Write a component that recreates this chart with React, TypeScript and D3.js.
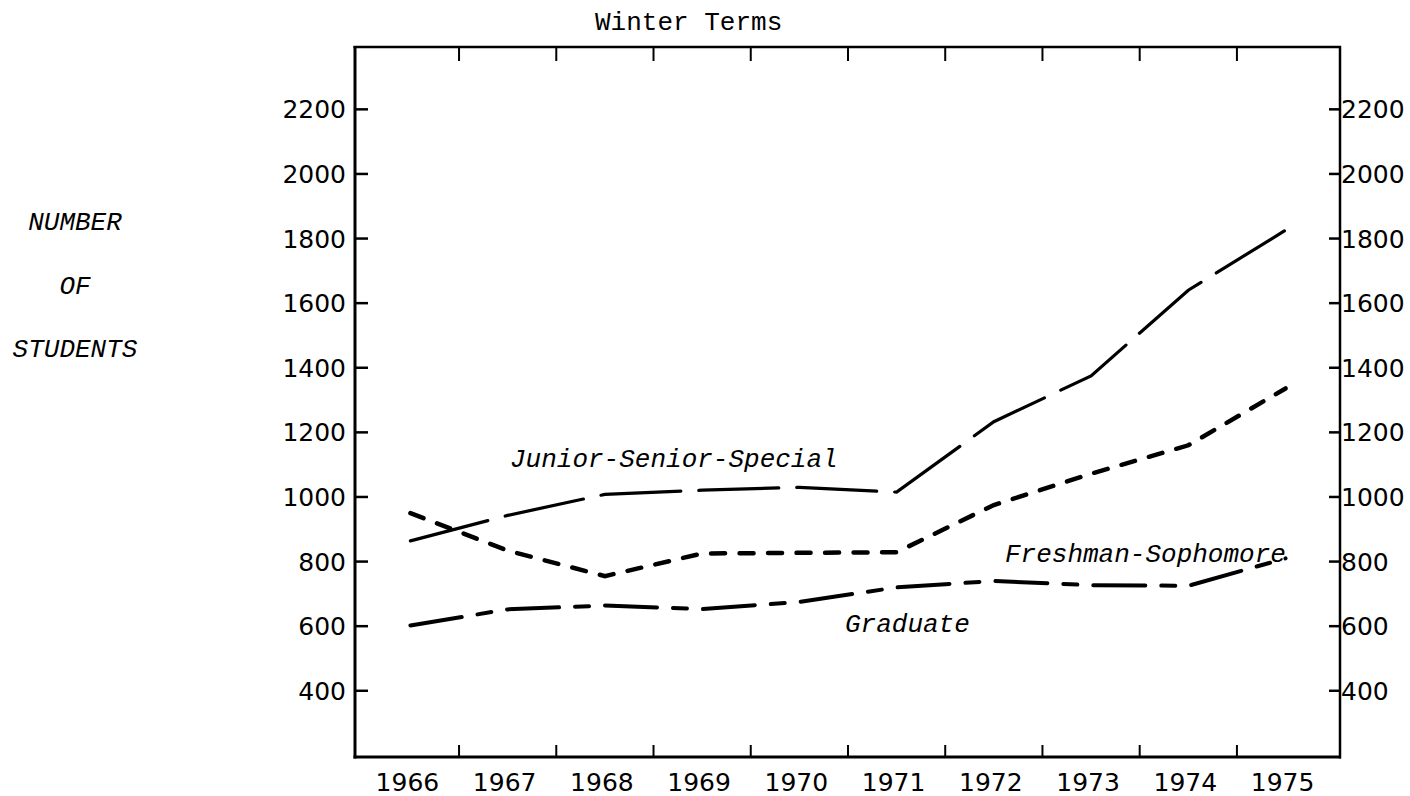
import React, { Component } from "react";
import * as d3 from "d3";

// values (winter terms, number of students)
const years = [1966, 1967, 1968, 1969, 1970, 1971, 1972, 1973, 1974, 1975];
const juniorSeniorSpecial = [864, 943, 1008, 1021, 1030, 1015, 1233, 1375, 1640, 1826];
const freshmanSophomore = [950, 834, 755, 825, 827, 829, 975, 1072, 1160, 1336];
const graduate = [602, 652, 664, 653, 675, 720, 740, 727, 725, 810];
const yTicks = [400, 600, 800, 1000, 1200, 1400, 1600, 1800, 2000, 2200];
const yTitle = ["NUMBER", "OF", "STUDENTS"];

const mono = "'Liberation Mono', 'Courier New', monospace";
const sans = "'DejaVu Sans', Verdana, sans-serif";

class App extends Component {
  svgRef = React.createRef<SVGSVGElement>();

  componentDidMount() {
    this.renderChart();
  }

  componentDidUpdate() {
    this.renderChart();
  }

  renderChart() {
    const svg = d3.select(this.svgRef.current);
    svg.selectAll("*").remove();

    const x = d3.scaleLinear().domain([1965.43, 1975.56]).range([355, 1340]);
    const y = d3.scaleLinear().domain([195, 2393]).range([757, 47]);

    const [x0, x1] = x.range();
    const [yb, yt] = y.range();

    // frame
    const frame = svg.append("g").attr("stroke", "#000").attr("fill", "none");
    frame.append("line").attr("x1", x0).attr("x2", x0).attr("y1", yt - 1).attr("y2", yb + 1.5).attr("stroke-width", 3);
    frame.append("line").attr("x1", x0 - 1.5).attr("x2", x1 + 1).attr("y1", yb).attr("y2", yb).attr("stroke-width", 3);
    frame.append("line").attr("x1", x0 - 1.5).attr("x2", x1 + 1).attr("y1", yt).attr("y2", yt).attr("stroke-width", 2.5);
    frame.append("line").attr("x1", x1).attr("x2", x1).attr("y1", yt - 1).attr("y2", yb + 1.5).attr("stroke-width", 2.5);

    // year ticks sit between the year labels, top and bottom
    const between = years.slice(0, -1).map(d => d + 0.5);
    frame.selectAll(".xb").data(between).join("line")
      .attr("x1", d => x(d)).attr("x2", d => x(d))
      .attr("y1", yb).attr("y2", yb - 12).attr("stroke-width", 2);
    frame.selectAll(".xt").data(between).join("line")
      .attr("x1", d => x(d)).attr("x2", d => x(d))
      .attr("y1", yt).attr("y2", yt + 14).attr("stroke-width", 2);

    // y ticks, both sides pointing in
    frame.selectAll(".yl").data(yTicks).join("line")
      .attr("x1", x0).attr("x2", x0 + 13)
      .attr("y1", d => y(d)).attr("y2", d => y(d)).attr("stroke-width", 2.5);
    frame.selectAll(".yr").data(yTicks).join("line")
      .attr("x1", x1).attr("x2", x1 - 11)
      .attr("y1", d => y(d)).attr("y2", d => y(d)).attr("stroke-width", 2.5);

    // tick labels
    svg.selectAll(".ylab-l").data(yTicks).join("text")
      .attr("x", x0 - 9).attr("y", d => y(d) + 9)
      .attr("text-anchor", "end")
      .style("font-family", sans).style("font-size", "25px")
      .text(d => d);
    svg.selectAll(".ylab-r").data(yTicks).join("text")
      .attr("x", x1 + 1).attr("y", d => y(d) + 9)
      .style("font-family", sans).style("font-size", "25px")
      .text(d => d);
    svg.selectAll(".xlab").data(years).join("text")
      .attr("x", d => x(d) - 3).attr("y", 791)
      .attr("text-anchor", "middle")
      .style("font-family", sans).style("font-size", "25px")
      .text(d => d);

    // title and axis title
    svg.append("text")
      .attr("x", 595).attr("y", 30)
      .style("font-family", mono).style("font-size", "26px")
      .text("Winter Terms");
    svg.selectAll(".ytitle").data(yTitle).join("text")
      .attr("x", 75).attr("y", (d, i) => 230 + i * 63.5)
      .attr("text-anchor", "middle")
      .style("font-family", mono).style("font-size", "26px").style("font-style", "italic")
      .text(d => d);

    // series
    const line = d3.line<number>()
      .x((d, i) => x(years[i]))
      .y(d => y(d));

    const series = [
      { values: juniorSeniorSpecial, width: 3.2, dash: "80,18" },
      { values: freshmanSophomore, width: 4.5, dash: "14,14.5" },
      { values: graduate, width: 4, dash: "52,16,14,16" },
    ];

    svg.selectAll(".series").data(series).join("path")
      .attr("d", d => line(d.values))
      .attr("fill", "none")
      .attr("stroke", "#000")
      .attr("stroke-width", d => d.width)
      .attr("stroke-linecap", "round")
      .attr("stroke-dasharray", d => d.dash);

    // series labels
    const labels = [
      { text: "Junior-Senior-Special", x: 510, y: 466.7 },
      { text: "Freshman-Sophomore", x: 1005, y: 561.7 },
      { text: "Graduate", x: 845, y: 631.7 },
    ];
    svg.selectAll(".slab").data(labels).join("text")
      .attr("x", d => d.x).attr("y", d => d.y)
      .style("font-family", mono).style("font-size", "26px").style("font-style", "italic")
      .text(d => d.text);
  }

  render() {
    return (
      <svg
        ref={this.svgRef}
        width={1410}
        height={796}
        style={{ position: "absolute", left: 0, top: 0, background: "#fff" }}
      />
    );
  }
}

export default App;
